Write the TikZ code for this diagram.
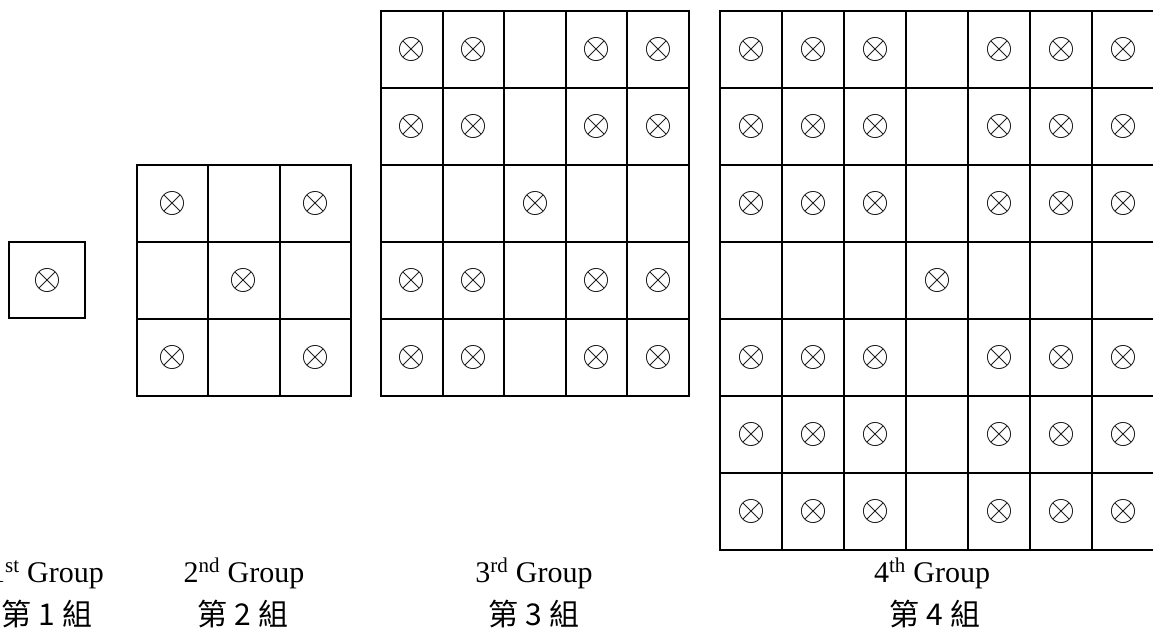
\documentclass[tikz,border=0pt]{standalone}
\usepackage{graphicx}
\usepackage{fontspec}
\setmainfont{Liberation Serif}
\newfontfamily\cjkfont{Noto Sans CJK TC}
\usepackage{tikz}
\usetikzlibrary{positioning}
\tikzstyle{every node}+=[inner sep=0pt]
\tikzstyle{cell} = [rectangle, draw, line width=2pt, text centered]
\tikzstyle{title} = [font=\fontsize{30}{30}\selectfont, anchor=base]
\tikzstyle{cname} = [font=\cjkfont\fontsize{30}{30}\selectfont, anchor=base]
\newcommand{\tens}{\raisebox{-1.5pt}{\scalebox{3.6}{$\otimes$}}}

\begin{document}
\begin{tikzpicture}[x=1pt, y=-1pt]
            \useasboundingbox (0,0) rectangle (1153,633);
            \clip (0,0) rectangle (1153,633);
            % Place grids
            \foreach \n/\xo/\yo/\w/\h/\g in {1/9/242/76/76/1, 3/137/165/71.3/77/2, 5/381/11/61.6/77/3, 7/720/11/62/77/4} {
              \pgfmathtruncatemacro{\m}{(\n+1)/2}
              \foreach \r in {1,...,\n} {
                \foreach \c in {1,...,\n} {
                  \pgfmathtruncatemacro{\full}{((\r!=\m)&&(\c!=\m)) || ((\r==\m)&&(\c==\m))}
                  \ifnum\full=1 \def\sym{\tens}\else\def\sym{}\fi
                  \node [cell, minimum width=\w pt, minimum height=\h pt] (g\g-\r-\c)
                    at ({\xo+(\c-0.5)*\w}, {\yo+(\r-0.5)*\h}) {\sym};
                }
              }
            }
            % Place labels
            \node [title] (t1) at (47,582) {1\textsuperscript{st} Group};
            \node [title] (t2) at (244,582) {2\textsuperscript{nd} Group};
            \node [title] (t3) at (534,582) {3\textsuperscript{rd} Group};
            \node [title] (t4) at (932,582) {4\textsuperscript{th} Group};
            \node [cname] (c1) at (47,625) {第 1 組};
            \node [cname] (c2) at (243,625) {第 2 組};
            \node [cname] (c3) at (534,625) {第 3 組};
            \node [cname] (c4) at (935,625) {第 4 組};
          \end{tikzpicture}
\end{document}
